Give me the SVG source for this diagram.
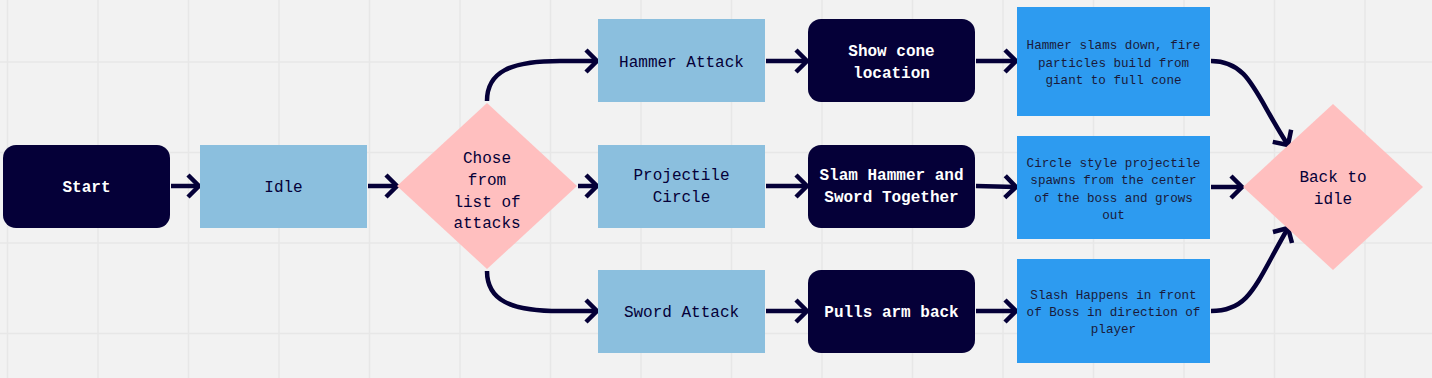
<svg xmlns="http://www.w3.org/2000/svg" width="1432" height="378" viewBox="0 0 1432 378">
<defs>
<style>
.grid line{stroke:#e7e7e7;stroke-width:1.5}
.dark{fill:#050038}
.lb{fill:#8bbfde}
.bl{fill:#2d9bf0}
.pk{fill:#ffbfbf}
text{font-family:"Liberation Mono","DejaVu Sans Mono",monospace;text-anchor:middle;dominant-baseline:central;transform:translateY(1.5px)}
.tw{fill:#ffffff;font-size:16px;font-weight:bold}
.tn{fill:#050038;font-size:16px}
.ts{fill:#1a1a3a;font-size:12.6px}
.conn path{fill:none;stroke:#050038;stroke-width:4.5;marker-end:url(#arr)}
</style>
<marker id="arr" markerUnits="userSpaceOnUse" markerWidth="20" markerHeight="30" viewBox="0 0 20 30" refX="15" refY="15" orient="auto">
<path d="M4,4 L15,15 L4,26" fill="none" stroke="#050038" stroke-width="4.5"/>
</marker>
</defs>
<rect width="1432" height="378" fill="#f2f2f2"/>
<g class="grid">
<line x1="7.5" y1="0" x2="7.5" y2="378"/>
<line x1="98" y1="0" x2="98" y2="378"/>
<line x1="188.5" y1="0" x2="188.5" y2="378"/>
<line x1="279" y1="0" x2="279" y2="378"/>
<line x1="369.5" y1="0" x2="369.5" y2="378"/>
<line x1="460" y1="0" x2="460" y2="378"/>
<line x1="550.5" y1="0" x2="550.5" y2="378"/>
<line x1="641" y1="0" x2="641" y2="378"/>
<line x1="731.5" y1="0" x2="731.5" y2="378"/>
<line x1="822" y1="0" x2="822" y2="378"/>
<line x1="912.5" y1="0" x2="912.5" y2="378"/>
<line x1="1003" y1="0" x2="1003" y2="378"/>
<line x1="1093.5" y1="0" x2="1093.5" y2="378"/>
<line x1="1184" y1="0" x2="1184" y2="378"/>
<line x1="1274.5" y1="0" x2="1274.5" y2="378"/>
<line x1="1365" y1="0" x2="1365" y2="378"/>
<line x1="0" y1="62" x2="1432" y2="62"/>
<line x1="0" y1="152.5" x2="1432" y2="152.5"/>
<line x1="0" y1="243" x2="1432" y2="243"/>
<line x1="0" y1="333.5" x2="1432" y2="333.5"/>
</g>
<g class="conn">
<path d="M171,186 L199,186"/>
<path d="M368,186 L397,186"/>
<path d="M487,101 C487,72 510,61 560,61 L597,61"/>
<path d="M578,186 L597,186"/>
<path d="M487,271 C487,300 510,311 560,311 L597,311"/>
<path d="M766,61 L807,61"/>
<path d="M766,186 L807,186"/>
<path d="M766,311 L807,311"/>
<path d="M976,61 L1016,61"/>
<path d="M976,186 L1016,187"/>
<path d="M976,311 L1016,311"/>
<path d="M1211,61 C1250,61 1255,95 1288,145"/>
<path d="M1211,187 L1242,187"/>
<path d="M1211,311 C1250,311 1255,285 1288,228"/>
</g>
<g id="start"><rect class="dark" x="3" y="145" width="167" height="83" rx="13"/><text class="tw" x="86.5" y="186">Start</text></g>
<g id="idle"><rect class="lb" x="200" y="145" width="167" height="83"/><text class="tn" x="283.5" y="186">Idle</text></g>
<g id="chose"><polygon class="pk" points="487,103 577,186 487,269 397,186"/><text class="tn" x="487" y="157">Chose</text><text class="tn" x="487" y="179">from</text><text class="tn" x="487" y="201">list of</text><text class="tn" x="487" y="222">attacks</text></g>
<g id="hammer"><rect class="lb" x="598" y="19" width="167" height="83"/><text class="tn" x="681.5" y="61">Hammer Attack</text></g>
<g id="projectile"><rect class="lb" x="598" y="145" width="167" height="83"/><text class="tn" x="681.5" y="174">Projectile</text><text class="tn" x="681.5" y="196">Circle</text></g>
<g id="sword"><rect class="lb" x="598" y="270" width="167" height="83"/><text class="tn" x="681.5" y="311">Sword Attack</text></g>
<g id="cone"><rect class="dark" x="808" y="19" width="167" height="83" rx="13"/><text class="tw" x="891.5" y="50">Show cone</text><text class="tw" x="891.5" y="72">location</text></g>
<g id="slam"><rect class="dark" x="808" y="145" width="167" height="83" rx="13"/><text class="tw" x="891.5" y="174">Slam Hammer and</text><text class="tw" x="891.5" y="196">Sword Together</text></g>
<g id="pulls"><rect class="dark" x="808" y="270" width="167" height="83" rx="13"/><text class="tw" x="891.5" y="311">Pulls arm back</text></g>
<g id="slams"><rect class="bl" x="1017" y="7" width="193" height="109"/><text class="ts" x="1113.5" y="44">Hammer slams down, fire</text><text class="ts" x="1113.5" y="62">particles build from</text><text class="ts" x="1113.5" y="79">giant to full cone</text></g>
<g id="circle"><rect class="bl" x="1017" y="136" width="193" height="103"/><text class="ts" x="1113.5" y="162">Circle style projectile</text><text class="ts" x="1113.5" y="179">spawns from the center</text><text class="ts" x="1113.5" y="197">of the boss and grows</text><text class="ts" x="1113.5" y="214">out</text></g>
<g id="slash"><rect class="bl" x="1017" y="259" width="193" height="104"/><text class="ts" x="1113.5" y="294">Slash Happens in front</text><text class="ts" x="1113.5" y="311">of Boss in direction of</text><text class="ts" x="1113.5" y="328">player</text></g>
<g id="back"><polygon class="pk" points="1333,104 1423,187 1333,270 1243,187"/><text class="tn" x="1333" y="176">Back to</text><text class="tn" x="1333" y="198">idle</text></g>
</svg>
